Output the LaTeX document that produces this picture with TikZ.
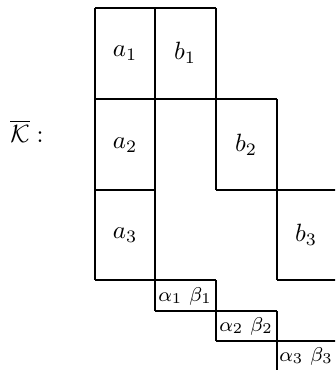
\documentclass[tikz,border=0pt]{standalone}
\usepackage{amsmath,amssymb}
\begin{document}
\begin{tikzpicture}[x=0.4pt,y=-0.4pt,
  grid/.style={line width=0.75pt},
  big/.style={inner sep=0pt},
  small/.style={inner sep=0pt,font=\footnotesize}]
\useasboundingbox (0,0) rectangle (335,370);
\clip (0,0) rectangle (335,370);
% grid lines
\draw[grid] (95,8) -- (216,8);
\draw[grid] (95,99) -- (277,99);
\draw[grid] (95,190) -- (155,190);
\draw[grid] (216,190) -- (345,190);
\draw[grid] (95,280) -- (216,280);
\draw[grid] (277,280) -- (345,280);
\draw[grid] (155,311) -- (277,311);
\draw[grid] (216,341) -- (345,341);
\draw[grid] (95,8) -- (95,280);
\draw[grid] (155,8) -- (155,311);
\draw[grid] (216,8) -- (216,190);
\draw[grid] (216,280) -- (216,341);
\draw[grid] (277,99) -- (277,280);
\draw[grid] (277,311) -- (277,380);
% labels
\node[big] (K) at (27,131) {$\overline{\mathcal{K}}:$};
\node[big] (a1) at (125,53) {$a_1$};
\node[big] (b1) at (185,53) {$b_1$};
\node[big] (a2) at (125,145) {$a_2$};
\node[big] (b2) at (246,145) {$b_2$};
\node[big] (a3) at (125,235) {$a_3$};
\node[big] (b3) at (306,235) {$b_3$};
\node[small] (ab1) at (185,296) {$\alpha_1\ \beta_1$};
\node[small] (ab2) at (246,326) {$\alpha_2\ \beta_2$};
\node[small] (ab3) at (306,356) {$\alpha_3\ \beta_3$};
\end{tikzpicture}
\end{document}
